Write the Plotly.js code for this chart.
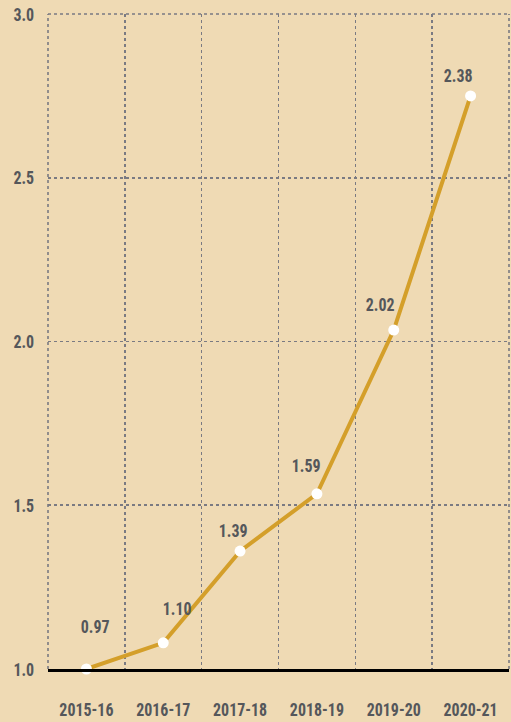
<!DOCTYPE html>
<html>
<head>
<meta charset="utf-8">
<script src="https://cdn.plot.ly/plotly-3.0.1.min.js"></script>
<style>html,body{margin:0;padding:0;background:#EFDAB4;}#chart{width:511px;height:722px;}</style>
</head>
<body>
<div id="chart"></div>
<script>
const years = ["2015-16", "2016-17", "2017-18", "2018-19", "2019-20", "2020-21"];
const values = [1.00, 1.08, 1.36, 1.535, 2.035, 2.75];
const labels = ["0.97", "1.10", "1.39", "1.59", "2.02", "2.38"];
const yTicks = [1.0, 1.5, 2.0, 2.5, 3.0];

const labelShiftX = [9, 14, -7, -11, -14, -13];
const labelShiftY = [43, 34, 21, 28, 26, 20];

const FONT = '"Liberation Sans Narrow", "Roboto Condensed", "DejaVu Sans Condensed", sans-serif';
const TXT = '#55575b';
const BG = '#EFDAB4';
const GRID = '#7a7a82';
const GRIDDASH = '3px,3px';

const trace = {
  type: 'scatter', mode: 'lines+markers',
  x: years, y: values,
  line: {color: '#D49F2A', width: 4},
  marker: {color: '#ffffff', size: 11, line: {width: 0}},
  hoverinfo: 'skip', cliponaxis: false
};

const annotations = labels.map((t, i) => ({
  x: years[i], y: values[i], xref: 'x', yref: 'y', text: t,
  showarrow: false, xshift: labelShiftX[i], yshift: labelShiftY[i],
  font: {family: FONT, size: 19, color: TXT, weight: 'bold'}
}));

const edge = (x0, y0, x1, y1) => ({
  type: 'line', xref: 'paper', yref: 'paper', x0: x0, y0: y0, x1: x1, y1: y1,
  line: {color: GRID, width: 1.6, dash: GRIDDASH}, layer: 'below'
});

const layout = {
  width: 511, height: 722,
  paper_bgcolor: BG, plot_bgcolor: BG,
  margin: {l: 48, r: 2, t: 14, b: 53},
  showlegend: false,
  xaxis: {
    type: 'category', range: [-0.5, 5.5], tickson: 'boundaries', tickangle: 0,
    showgrid: true, gridcolor: GRID, griddash: GRIDDASH, gridwidth: 1.6,
    showline: true, linecolor: '#000000', linewidth: 3,
    ticks: '', ticklabelstandoff: 21,
    tickfont: {family: FONT, size: 19, color: TXT, weight: 'bold'},
    fixedrange: true
  },
  yaxis: {
    range: [1, 3], tickvals: yTicks, ticktext: yTicks.map(v => v.toFixed(1)),
    showgrid: true, gridcolor: GRID, griddash: GRIDDASH, gridwidth: 1.6,
    zeroline: false, showline: false,
    ticks: 'outside', ticklen: 9, tickcolor: 'rgba(0,0,0,0)',
    tickfont: {family: FONT, size: 19, color: TXT, weight: 'bold'},
    fixedrange: true
  },
  shapes: [edge(0, 0, 0, 1), edge(1, 0, 1, 1), edge(0, 1, 1, 1)],
  annotations: annotations
};

function condense(s) {
  document.querySelectorAll('#chart svg text').forEach(t => {
    const x = parseFloat(t.getAttribute('x')) || 0;
    const y = parseFloat(t.getAttribute('y')) || 0;
    const tr = t.getAttribute('transform') || '';
    t.setAttribute('transform', tr + ' translate(' + x + ',' + y + ') scale(' + s + ',1) translate(' + (-x) + ',' + (-y) + ')');
  });
}

Plotly.newPlot('chart', [trace], layout, {displayModeBar: false, staticPlot: true})
  .then(() => condense(0.84));
</script>
</body>
</html>
